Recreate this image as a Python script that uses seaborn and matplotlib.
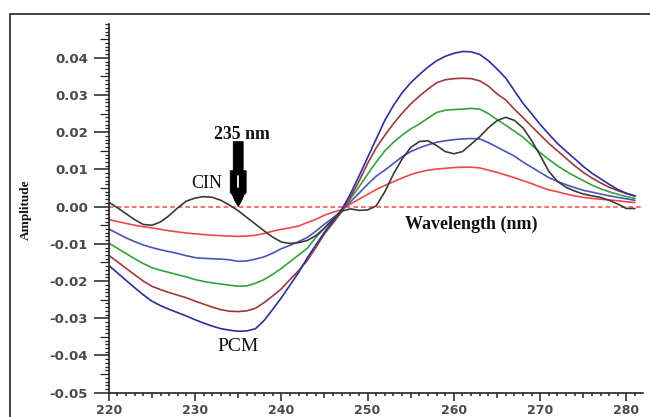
import numpy as np
import pandas as pd
import matplotlib
matplotlib.use("Agg")
import matplotlib.pyplot as plt
import matplotlib.transforms as mtransforms
from matplotlib.patches import Polygon, Rectangle
from matplotlib.ticker import MultipleLocator, FormatStrFormatter
import seaborn as sns

# First-derivative spectra, wavelength in nm
wavelength = list(range(220, 282))

pcm_1 = [-0.0035, -0.0040, -0.0045, -0.0050, -0.0054, -0.0057, -0.0061, -0.0065, -0.0068, -0.0071,
         -0.0073, -0.0075, -0.0077, -0.0078, -0.0079, -0.0080, -0.0079, -0.0077, -0.0072, -0.0066,
         -0.0061, -0.0057, -0.0052, -0.0043, -0.0034, -0.0023, -0.0015, -0.0008, 0.0007, 0.0020,
         0.0033, 0.0046, 0.0057, 0.0067, 0.0077, 0.0086, 0.0093, 0.0098, 0.0101, 0.0103,
         0.0105, 0.0106, 0.0106, 0.0104, 0.0098, 0.0092, 0.0085, 0.0078, 0.0070, 0.0062,
         0.0053, 0.0045, 0.0040, 0.0034, 0.0029, 0.0025, 0.0022, 0.0020, 0.0018, 0.0016,
         0.0013, 0.0011]

pcm_2 = [-0.0060, -0.0072, -0.0084, -0.0094, -0.0103, -0.0110, -0.0116, -0.0121, -0.0126, -0.0132,
         -0.0137, -0.0139, -0.0140, -0.0141, -0.0143, -0.0147, -0.0146, -0.0141, -0.0135, -0.0125,
         -0.0113, -0.0104, -0.0094, -0.0083, -0.0066, -0.0047, -0.0030, -0.0010, 0.0013, 0.0036,
         0.0060, 0.0082, 0.0098, 0.0116, 0.0134, 0.0148, 0.0158, 0.0166, 0.0173, 0.0177,
         0.0180, 0.0182, 0.0183, 0.0182, 0.0172, 0.0160, 0.0148, 0.0136, 0.0120, 0.0106,
         0.0092, 0.0078, 0.0068, 0.0059, 0.0051, 0.0044, 0.0039, 0.0034, 0.0029, 0.0025,
         0.0021, 0.0017]

pcm_3 = [-0.0098, -0.0112, -0.0126, -0.0140, -0.0153, -0.0164, -0.0171, -0.0177, -0.0183, -0.0189,
         -0.0196, -0.0201, -0.0205, -0.0208, -0.0211, -0.0214, -0.0213, -0.0206, -0.0196, -0.0182,
         -0.0166, -0.0148, -0.0130, -0.0112, -0.0083, -0.0057, -0.0034, -0.0012, 0.0021, 0.0053,
         0.0087, 0.0120, 0.0150, 0.0173, 0.0192, 0.0209, 0.0222, 0.0238, 0.0253, 0.0259,
         0.0261, 0.0262, 0.0264, 0.0262, 0.0250, 0.0234, 0.0219, 0.0203, 0.0187, 0.0166,
         0.0145, 0.0127, 0.0110, 0.0095, 0.0082, 0.0070, 0.0058, 0.0048, 0.0040, 0.0033,
         0.0027, 0.0022]

pcm_4 = [-0.0131, -0.0148, -0.0166, -0.0183, -0.0200, -0.0214, -0.0223, -0.0231, -0.0238, -0.0245,
         -0.0254, -0.0262, -0.0270, -0.0277, -0.0281, -0.0282, -0.0280, -0.0273, -0.0258, -0.0240,
         -0.0221, -0.0196, -0.0172, -0.0145, -0.0110, -0.0073, -0.0044, -0.0014, 0.0025, 0.0068,
         0.0116, 0.0158, 0.0192, 0.0223, 0.0251, 0.0276, 0.0297, 0.0316, 0.0333, 0.0341,
         0.0344, 0.0345, 0.0344, 0.0338, 0.0324, 0.0303, 0.0287, 0.0262, 0.0240, 0.0216,
         0.0193, 0.0170, 0.0150, 0.0130, 0.0110, 0.0092, 0.0077, 0.0064, 0.0052, 0.0043,
         0.0035, 0.0028]

pcm_5 = [-0.0158, -0.0178, -0.0198, -0.0218, -0.0237, -0.0254, -0.0266, -0.0276, -0.0285, -0.0294,
         -0.0304, -0.0313, -0.0321, -0.0328, -0.0332, -0.0335, -0.0334, -0.0328, -0.0306, -0.0276,
         -0.0245, -0.0211, -0.0177, -0.0138, -0.0103, -0.0069, -0.0038, -0.0008, 0.0034, 0.0082,
         0.0132, 0.0182, 0.0232, 0.0272, 0.0306, 0.0333, 0.0355, 0.0375, 0.0392, 0.0404,
         0.0412, 0.0417, 0.0416, 0.0409, 0.0392, 0.0370, 0.0346, 0.0312, 0.0278, 0.0250,
         0.0221, 0.0195, 0.0170, 0.0149, 0.0129, 0.0108, 0.0090, 0.0075, 0.0060, 0.0046,
         0.0036, 0.0029]

cin = [0.0012, -0.0003, -0.0019, -0.0035, -0.0048, -0.0050, -0.0041, -0.0024, -0.0003, 0.0015,
       0.0023, 0.0027, 0.0025, 0.0017, 0.0004, -0.0011, -0.0029, -0.0047, -0.0065, -0.0082,
       -0.0095, -0.0099, -0.0097, -0.0091, -0.0078, -0.0058, -0.0034, -0.0012, -0.0006, -0.0010,
       -0.0009, 0.0002, 0.0040, 0.0088, 0.0128, 0.0159, 0.0175, 0.0177, 0.0164, 0.0148,
       0.0142, 0.0148, 0.0168, 0.0188, 0.0212, 0.0231, 0.0240, 0.0232, 0.0212, 0.0178,
       0.0138, 0.0095, 0.0068, 0.0052, 0.0042, 0.0034, 0.0029, 0.0025, 0.0017, 0.0007,
       -0.0005, -0.0005]

series_names = ["PCM 1", "PCM 2", "PCM 3", "PCM 4", "PCM 5", "CIN"]
series_colors = ["#f04848", "#4a55b8", "#35a23c", "#9c3b3b", "#2c2e9e", "#3a3a3a"]

x_ticks = [220, 230, 240, 250, 260, 270, 280]
y_ticks = [-0.05, -0.04, -0.03, -0.02, -0.01, 0.00, 0.01, 0.02, 0.03, 0.04]

sns.set_style("ticks")
plt.rcParams["font.family"] = ["DejaVu Sans"]
plt.rcParams["axes.unicode_minus"] = False

wide = pd.DataFrame({"wavelength": wavelength,
                     "PCM 1": pcm_1, "PCM 2": pcm_2, "PCM 3": pcm_3,
                     "PCM 4": pcm_4, "PCM 5": pcm_5, "CIN": cin})
df = wide.melt(id_vars="wavelength", var_name="series", value_name="amplitude")

fig = plt.figure(figsize=(6.5, 4.17), dpi=100)
ax = fig.add_axes([108.8 / 650, (417 - 392.7) / 417, 534 / 650, 368.4 / 417])
ax.set_facecolor("white")

# zero reference line
ax.axhline(0, color="#f24a4a", lw=1.1, dashes=(3, 2), zorder=1)

sns.lineplot(data=df, x="wavelength", y="amplitude", hue="series",
             hue_order=series_names, palette=dict(zip(series_names, series_colors)),
             lw=1.2, legend=False, ax=ax, estimator=None, sort=False, zorder=2)

ax.set_xlim(220, 281.9)
ax.set_ylim(-0.05, 0.049)

for side in ["top", "right"]:
    ax.spines[side].set_visible(False)
for side in ["left", "bottom"]:
    ax.spines[side].set_linewidth(1.2)
    ax.spines[side].set_color("#222222")

ax.set_xticks(x_ticks)
ax.set_yticks(y_ticks)
ax.xaxis.set_minor_locator(MultipleLocator(1))
ax.yaxis.set_minor_locator(MultipleLocator(0.001))
ax.yaxis.set_major_formatter(FormatStrFormatter("%.2f"))

ax.tick_params(axis="y", which="major", direction="out", length=11, width=1.1,
               pad=4, labelsize=9.5, color="#222222", labelcolor="#4a4a4a")
ax.tick_params(axis="y", which="minor", direction="out", length=3.2, width=0.9, color="#222222")
ax.tick_params(axis="x", which="major", direction="out", length=5.8, width=1.1,
               pad=2.2, labelsize=9, color="#222222", labelcolor="#4a4a4a")
ax.tick_params(axis="x", which="minor", direction="out", length=1.8, width=1.1, color="#222222")

for lbl in ax.get_xticklabels() + ax.get_yticklabels():
    lbl.set_fontweight("bold")

# medium-length ticks at the half-steps
for loc, tick in zip(ax.yaxis.get_minorticklocs(), ax.yaxis.get_minor_ticks()):
    if abs(loc / 0.005 - round(loc / 0.005)) < 1e-6:
        tick.tick1line.set_markersize(6.5)
for loc, tick in zip(ax.xaxis.get_minorticklocs(), ax.xaxis.get_minor_ticks()):
    if abs(loc / 5 - round(loc / 5)) < 1e-6:
        tick.tick1line.set_markersize(3.6)

serif = ["Liberation Serif", "DejaVu Serif"]
ax.set_ylabel("Amplitude", family=serif, weight="bold", fontsize=9.5, color="#111111")
ax.yaxis.set_label_coords(-0.144, 0.497)
ax.set_xlabel("Wavelength (nm)", family=serif, weight="bold", fontsize=13, color="#111111")
ax.xaxis.set_label_coords(0.679, 0.48)

ax.text(235.4, 0.0195, "235 nm", family=serif, weight="bold", fontsize=12.8,
        ha="center", va="center", color="#111111")
ax.text(231.3, 0.0061, "CIN", family=serif, fontsize=13, ha="center", va="center", color="#111111")
ax.text(235.0, -0.0376, "PCM", family=serif, fontsize=14, ha="center", va="center", color="#111111")

# block arrow marking the zero-crossing at 235 nm (shape in pixels, tip at the point)
arrow_px = [(0, 0), (-3.5, 6), (-6, 12), (-8, 14), (-8, 36), (-5, 36), (-5, 65),
            (5, 65), (5, 36), (8, 36), (8, 14), (6, 12), (3.5, 6)]
tip = fig.dpi_scale_trans + mtransforms.ScaledTranslation(235, 0, ax.transData)
ax.add_patch(Polygon([(x / 100, y / 100) for x, y in arrow_px], closed=True,
                     transform=tip, facecolor="black", edgecolor="black", lw=0.5,
                     zorder=5, clip_on=False))
ax.add_line(plt.Line2D([0, 0], [0.20, 0.31], transform=tip, color="white", lw=1.3, zorder=6))

# outer frame
fig.add_artist(Rectangle((9.5 / 650, -0.5), 2.0, 0.5 + 1 - 14.3 / 417,
                         transform=fig.transFigure, fill=False, ec="#333333", lw=1.3))

fig.savefig("out.png", dpi=100)
